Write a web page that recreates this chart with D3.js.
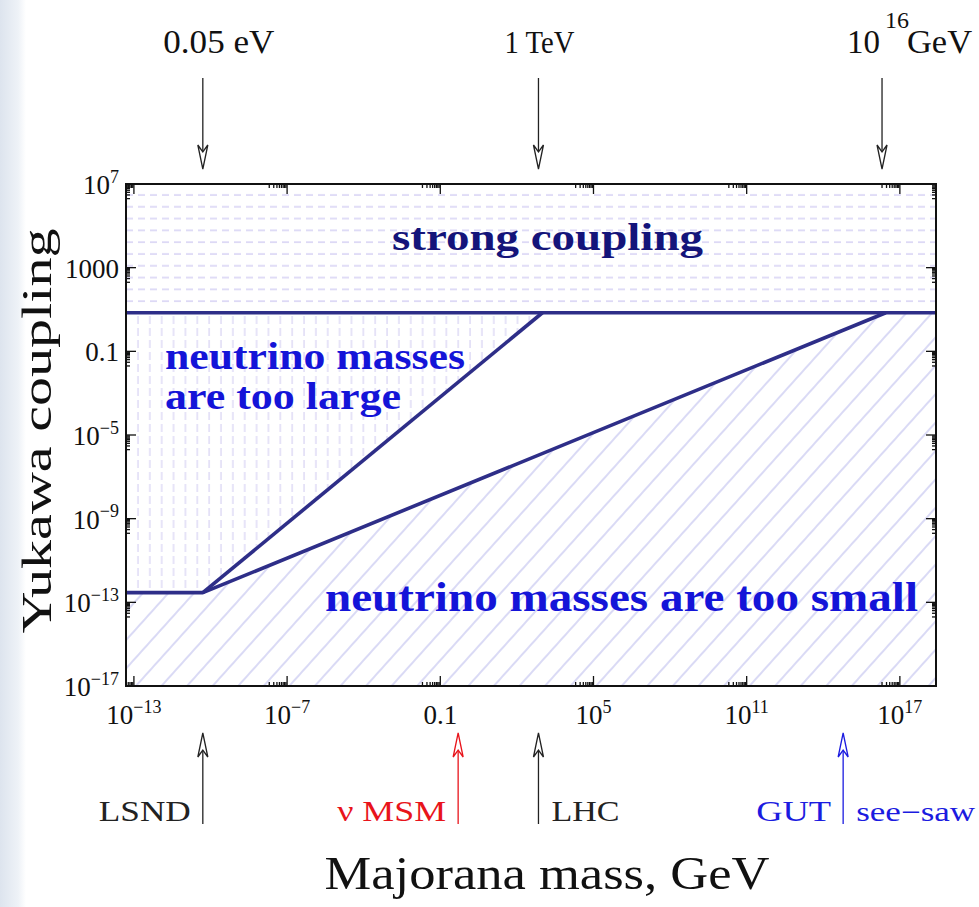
<!DOCTYPE html>
<html><head><meta charset="utf-8">
<script src="https://cdn.jsdelivr.net/npm/d3@7"></script>
<style>body{margin:0;background:#fff}svg{display:block}</style>
</head><body><svg id="c" width="979" height="907"></svg>
<script>
// ---------- data ----------
const xTickValues = [1e-13, 1e-7, 1e-1, 1e5, 1e11, 1e17];
const xTickLabels = [["10","−13"],["10","−7"],["0.1",""],["10","5"],["10","11"],["10","17"]];
const yTickValues = [1e7, 1e3, 1e-1, 1e-5, 1e-9, 1e-13, 1e-17];
const yTickLabels = [["10","7"],["1000",""],["0.1",""],["10","−5"],["10","−9"],["10","−13"],["10","−17"]];
const xDomain = [4.9e-14, 2.6e18];
const yDomain = [1e-17, 1e7];
const strongCouplingY = 7;        // horizontal boundary
const flatY = 2.9e-13;            // minimal Yukawa for m_nu = 0.05 eV
const kinkX = 5e-11;              // 0.05 eV
const steepEndX = 1e3;            // upper line meets strong coupling
const seesawEndX = 2.8e16;        // lower line meets strong coupling
const topMarkerValues = [5e-11, 7e2, 2e16];
const topMarkerLabels = ["0.05 eV", "1 TeV", "10|16|GeV"];
const bottomMarkerValues = [5e-11, 0.5, 7e2, 6e14];
const bottomMarkerColors = ["#222", "#e8141b", "#222", "#1b1be0"];
const bottomLeftLabels = ["LSND", "ν MSM", "", "GUT"];
const bottomRightLabels = ["", "", "LHC", "see−saw"];
const regionLabels = ["strong coupling", "neutrino masses", "are too large", "neutrino masses are too small"];

// ---------- layout ----------
const svg = d3.select("#c");
const L = 126, R = 936, T = 184, B = 686;
const x = d3.scaleLog().domain(xDomain).range([L, R]);
const y = d3.scaleLog().domain(yDomain).range([B, T]);
const serif = "'Liberation Serif','Times New Roman',serif";
const lineCol = "#2e2e88";

// left background band
const defs = svg.append("defs");
const g0 = defs.append("linearGradient").attr("id","band").attr("x1",0).attr("x2",1);
g0.append("stop").attr("offset",0).attr("stop-color","#dde4ee");
g0.append("stop").attr("offset",0.7).attr("stop-color","#eef2f7");
g0.append("stop").attr("offset",1).attr("stop-color","#ffffff");
svg.append("rect").attr("x",0).attr("y",0).attr("width",26).attr("height",907).attr("fill","url(#band)");

// patterns
const pH = defs.append("pattern").attr("id","hdash").attr("patternUnits","userSpaceOnUse")
  .attr("x",L).attr("y",189).attr("width",12).attr("height",11.8);
pH.append("line").attr("x1",0).attr("x2",12).attr("y1",6).attr("y2",6)
  .attr("stroke","#d9d5f5").attr("stroke-width",1.6).attr("stroke-dasharray","7,5");
const pV = defs.append("pattern").attr("id","vdash").attr("patternUnits","userSpaceOnUse")
  .attr("x",132).attr("y",T).attr("width",11.86).attr("height",12);
pV.append("line").attr("y1",0).attr("y2",12).attr("x1",6).attr("x2",6)
  .attr("stroke","#dcd8f5").attr("stroke-width",1.4).attr("stroke-dasharray","8,4");
const pD = defs.append("pattern").attr("id","diag").attr("patternUnits","userSpaceOnUse")
  .attr("width",19).attr("height",40).attr("patternTransform","rotate(42)");
pD.append("line").attr("x1",9).attr("x2",9).attr("y1",0).attr("y2",40)
  .attr("stroke","#c6c6f0").attr("stroke-width",1.3);

const area = d3.line().x(d => x(d[0])).y(d => y(d[1]));
const xmin = xDomain[0], xmax = xDomain[1], ymin = yDomain[0], ymax = yDomain[1];
svg.append("path").attr("d", area([[xmin,strongCouplingY],[xmax,strongCouplingY],[xmax,ymax],[xmin,ymax]]) + "Z")
  .attr("fill","url(#hdash)");
svg.append("path").attr("d", area([[xmin,strongCouplingY],[steepEndX,strongCouplingY],[kinkX,flatY],[xmin,flatY]]) + "Z")
  .attr("fill","url(#vdash)");
svg.append("path").attr("d", area([[xmin,flatY],[kinkX,flatY],[seesawEndX,strongCouplingY],[xmax,strongCouplingY],[xmax,ymin],[xmin,ymin]]) + "Z")
  .attr("fill","url(#diag)");

// boundary lines
const bl = [
  [[xmin,strongCouplingY],[xmax,strongCouplingY]],
  [[xmin,flatY],[kinkX,flatY],[seesawEndX,strongCouplingY]],
  [[kinkX,flatY],[steepEndX,strongCouplingY]]
];
svg.selectAll("path.bl").data(bl).enter().append("path").attr("class","bl")
  .attr("d", area).attr("fill","none").attr("stroke",lineCol).attr("stroke-width",3.6)
  .attr("stroke-linejoin","round");

// frame
svg.append("rect").attr("x",L).attr("y",T).attr("width",R-L).attr("height",B-T)
  .attr("fill","none").attr("stroke","#111").attr("stroke-width",2);

// ticks (inward, all four sides) with minor ticks in the preceding decade
function minorOf(v){ const out=[]; for(let k=2;k<=9;k++) out.push(v/10*k); return out; }
const xMinor = xTickValues.flatMap(minorOf).filter(v => v>=xmin && v<=xmax);
const yMinor = yTickValues.flatMap(minorOf).filter(v => v>=ymin && v<=ymax);
const tg = svg.append("g").attr("stroke","#111").attr("stroke-width",1.3);
[[B,-1],[T,1]].forEach(([yy,s]) => {
  xTickValues.forEach(v => tg.append("line").attr("x1",x(v)).attr("x2",x(v)).attr("y1",yy).attr("y2",yy+s*10));
  xMinor.forEach(v => tg.append("line").attr("x1",x(v)).attr("x2",x(v)).attr("y1",yy).attr("y2",yy+s*4));
});
[[L,1],[R,-1]].forEach(([xx,s]) => {
  yTickValues.forEach(v => tg.append("line").attr("y1",y(v)).attr("y2",y(v)).attr("x1",xx).attr("x2",xx+s*10));
  yMinor.forEach(v => tg.append("line").attr("y1",y(v)).attr("y2",y(v)).attr("x1",xx).attr("x2",xx+s*4));
});

// tick labels
function supText(sel, base, sup, fs, sfs){
  sel.append("tspan").text(base);
  if (sup) sel.append("tspan").attr("font-size",sfs).attr("dy",-fs*0.42).text(sup);
}
xTickValues.forEach((v,i) => {
  const t = svg.append("text").attr("x",x(v)).attr("y",724).attr("text-anchor","middle")
    .attr("font-family",serif).attr("font-size",27).attr("fill","#111");
  supText(t, xTickLabels[i][0], xTickLabels[i][1], 27, 18);
});
yTickValues.forEach((v,i) => {
  const t = svg.append("text").attr("x",119).attr("y",y(v)+10).attr("text-anchor","end")
    .attr("font-family",serif).attr("font-size",27).attr("fill","#111");
  supText(t, yTickLabels[i][0], yTickLabels[i][1], 27, 18);
});

// axis titles
svg.append("text").attr("transform","translate(51,431) rotate(-90)").attr("text-anchor","middle")
  .attr("font-family",serif).attr("font-size",43).attr("fill","#111")
  .attr("textLength",405).attr("lengthAdjust","spacingAndGlyphs").text("Yukawa coupling");
svg.append("text").attr("x",547).attr("y",889).attr("text-anchor","middle")
  .attr("font-family",serif).attr("font-size",47).attr("fill","#111")
  .attr("textLength",445).attr("lengthAdjust","spacingAndGlyphs").text("Majorana mass, GeV");

// region labels
function bold(txt, xx, yy, fs, len, col){
  svg.append("text").attr("x",xx).attr("y",yy).attr("font-family",serif).attr("font-weight","bold")
    .attr("font-size",fs).attr("fill",col).attr("textLength",len).attr("lengthAdjust","spacingAndGlyphs").text(txt);
}
bold(regionLabels[0], 392, 250, 38, 311, "#14147a");
bold(regionLabels[1], 165, 369, 37, 300, "#1414d8");
bold(regionLabels[2], 165, 409, 37, 236, "#1414d8");
bold(regionLabels[3], 325, 611, 43, 593, "#1414d8");

// arrows
function arrow(xx, y0, tip, col, dir){ // dir=+1 pointing down, -1 pointing up
  const g = svg.append("g").attr("stroke",col).attr("stroke-width",1.3);
  g.append("line").attr("x1",xx).attr("x2",xx).attr("y1",y0).attr("y2",tip - dir*14);
  g.append("path").attr("d",`M${xx},${tip} L${xx-5},${tip-dir*24} L${xx},${tip-dir*17} L${xx+5},${tip-dir*24} Z`)
    .attr("fill","#fff").attr("stroke-linejoin","miter");
}
topMarkerValues.forEach(v => arrow(x(v), 78, 169, "#222", 1));
bottomMarkerValues.forEach((v,i) => arrow(x(v), 824, 733, bottomMarkerColors[i], -1));

// top labels
const tl = (txt, xx, fs, len) => svg.append("text").attr("x",xx).attr("y",53).attr("text-anchor","middle")
  .attr("font-family",serif).attr("font-size",fs).attr("fill","#111")
  .attr("textLength",len).attr("lengthAdjust","spacingAndGlyphs").text(txt);
tl(topMarkerLabels[0], x(topMarkerValues[0]) + 16, 33, 111);
tl(topMarkerLabels[1], x(topMarkerValues[1]) + 1, 32, 70);
const parts = topMarkerLabels[2].split("|");
const gx = x(topMarkerValues[2]);
svg.append("text").attr("x",gx-35).attr("y",53).attr("font-family",serif).attr("font-size",33).attr("fill","#111").text(parts[0]);
svg.append("text").attr("x",gx+3).attr("y",28).attr("font-family",serif).attr("font-size",24).attr("fill","#111").text(parts[1]);
svg.append("text").attr("x",gx+25).attr("y",53).attr("font-family",serif).attr("font-size",33).attr("fill","#111")
  .attr("textLength",65).attr("lengthAdjust","spacingAndGlyphs").text(parts[2]);

// bottom labels
const leftLens = [92, 109, 0, 75], rightLens = [0, 0, 68, 119];
bottomMarkerValues.forEach((v,i) => {
  const xx = x(v), col = bottomMarkerColors[i];
  if (bottomLeftLabels[i]) svg.append("text").attr("x",xx-12).attr("y",821).attr("text-anchor","end")
    .attr("font-family",serif).attr("font-size",30).attr("fill",col)
    .attr("textLength",leftLens[i]).attr("lengthAdjust","spacingAndGlyphs").text(bottomLeftLabels[i]);
  if (bottomRightLabels[i]) svg.append("text").attr("x",xx+13).attr("y",821)
    .attr("font-family",serif).attr("font-size", i===3 ? 27 : 30).attr("fill",col)
    .attr("textLength",rightLens[i]).attr("lengthAdjust","spacingAndGlyphs").text(bottomRightLabels[i]);
});
</script></body></html>
